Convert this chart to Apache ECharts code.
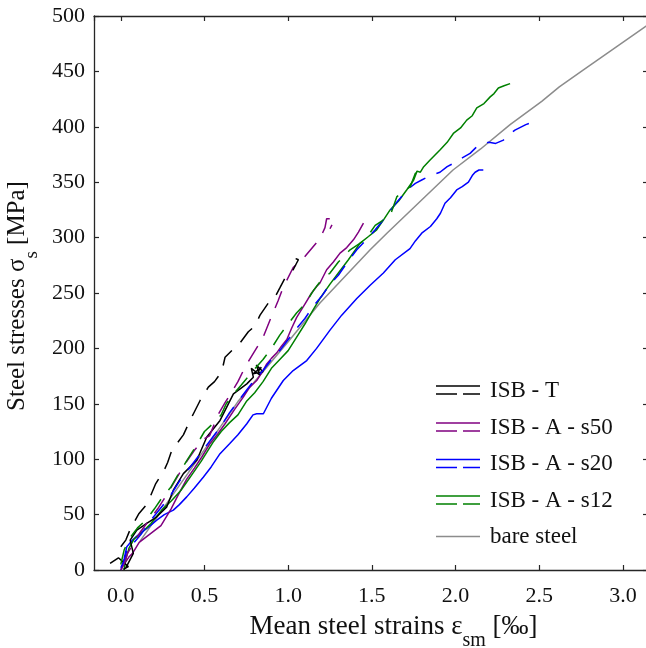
<!DOCTYPE html>
<html><head><meta charset="utf-8">
<script src="https://cdn.jsdelivr.net/npm/echarts@6/dist/echarts.min.js"></script>
<style>html,body{margin:0;padding:0;background:#fff}#c{width:646px;height:648px}</style>
</head><body><div id="c"></div>
<script>
// ---------- data (strain [‰], stress [MPa]) ----------
const isbT_solid = [[-0.064,6],[-0.014,11],[0.045,3],[0.016,0.6],[0.03,2],[0.075,15],[0.056,27],[0.096,36],[0.155,42],[0.215,48],[0.275,57],[0.314,72],[0.374,87],[0.454,99],[0.514,120],[0.593,135],[0.673,159],[0.753,168],[0.792,174],[0.78,182],[0.83,176],[0.81,185],[0.85,179],[0.79,177],[0.84,183],[0.82,179]];
const isbT_dashed = [[0.0,21],[0.03,27],[0.06,38],[0.109,51],[0.159,60],[0.209,78],[0.259,90],[0.28,97],[0.305,108],[0.374,122],[0.414,135],[0.474,153],[0.523,165],[0.56,170],[0.603,179],[0.623,192],[0.67,199],[0.713,205],[0.762,215],[0.8,220],[0.832,230],[0.882,241],[0.92,246],[0.952,255],[0.99,266],[1.03,271],[1.061,280],[1.045,281],[1.065,280],[1.05,275]];
const s50_solid = [[0.0,0],[0.02,5],[0.05,12],[0.07,15],[0.11,25],[0.17,32],[0.24,40],[0.3,55],[0.344,68],[0.394,82],[0.44,92],[0.484,102],[0.533,114],[0.58,123],[0.623,132],[0.68,145],[0.732,156],[0.77,165],[0.812,171],[0.85,180],[0.872,186],[0.9,191],[0.932,196],[0.96,202],[0.992,208],[1.02,218],[1.051,228],[1.1,240],[1.14,250],[1.171,256],[1.19,259],[1.23,271],[1.27,278],[1.31,286],[1.35,291],[1.39,298],[1.42,305],[1.45,313]];
const s50_dashed = [[0.02,5],[0.04,15],[0.08,25],[0.12,35],[0.17,45],[0.22,55],[0.254,63],[0.314,78],[0.38,95],[0.44,108],[0.494,118],[0.53,121],[0.584,141],[0.623,151],[0.66,160],[0.70,170],[0.742,183],[0.79,195],[0.85,210],[0.89,225],[0.94,243],[0.97,255],[1.03,273],[1.10,283],[1.19,299],[1.22,309],[1.23,317],[1.28,317],[1.25,308]];
const s20_solid = [[0.0,0],[0.006,2],[0.02,10],[0.036,21],[0.07,27],[0.115,33],[0.16,38],[0.215,45],[0.26,50],[0.314,54],[0.35,59],[0.394,66],[0.44,74],[0.494,84],[0.54,93],[0.593,105],[0.65,114],[0.7,122],[0.753,132],[0.79,140],[0.812,141],[0.852,141],[0.9,155],[0.94,164],[0.971,171],[1.03,180],[1.111,189],[1.17,200],[1.25,216.5],[1.32,230],[1.41,245],[1.49,257],[1.569,268],[1.64,280],[1.728,290],[1.76,297],[1.798,304],[1.85,310],[1.888,317],[1.91,322],[1.937,331],[1.97,336],[2.007,343],[2.04,346],[2.077,350],[2.1,356],[2.117,359],[2.14,361],[2.166,361]];
const s20_dashed = [[0.0,2],[0.02,8],[0.04,20],[0.08,25],[0.12,32],[0.18,45],[0.25,58],[0.3,68],[0.35,80],[0.4,90],[0.45,100],[0.5,110],[0.55,120],[0.6,130],[0.65,142],[0.7,152],[0.75,162],[0.8,172],[0.85,180],[0.9,190],[0.95,198],[1.0,208],[1.05,218],[1.1,227],[1.15,238],[1.2,247],[1.25,258],[1.3,266],[1.35,277],[1.41,289],[1.46,297],[1.52,307],[1.58,318],[1.649,332],[1.718,344],[1.76,349],[1.798,352],[1.85,356],[1.907,359],[1.95,364],[1.987,367],[2.04,372],[2.087,376],[2.12,381],[2.157,385],[2.2,386],[2.24,385],[2.286,388],[2.32,393],[2.355,397],[2.42,402],[2.475,405]];
const s12_solid = [[0.02,0],[0.03,10],[0.05,20],[0.08,28],[0.12,33],[0.18,42],[0.25,55],[0.3,62],[0.36,72],[0.42,85],[0.48,98],[0.55,115],[0.6,125],[0.65,133],[0.7,140],[0.75,152],[0.8,160],[0.85,170],[0.9,182],[0.95,190],[1.0,198],[1.05,210],[1.1,222],[1.15,235],[1.19,245],[1.25,258],[1.3,268],[1.36,280],[1.43,295],[1.48,301],[1.529,307],[1.57,316],[1.609,325],[1.66,333],[1.708,343],[1.75,352],[1.77,360],[1.79,359],[1.81,364],[1.848,370],[1.907,379],[1.95,386],[1.987,394],[2.03,399],[2.067,406],[2.1,410],[2.127,417],[2.17,421],[2.207,427],[2.23,430],[2.256,435],[2.29,437],[2.326,439]];
const s12_dashed = [[0.0,5],[0.02,18],[0.05,28],[0.1,38],[0.15,45],[0.2,55],[0.25,66],[0.3,75],[0.35,88],[0.4,100],[0.45,112],[0.5,125],[0.55,132],[0.6,140],[0.63,150],[0.68,160],[0.72,167],[0.78,178],[0.85,190],[0.9,200],[0.95,212],[1.0,222],[1.05,232],[1.1,240],[1.15,252],[1.2,262],[1.25,268],[1.3,278],[1.37,289],[1.46,298],[1.52,311],[1.61,320],[1.65,337],[1.73,346],[1.76,358],[1.8,359],[1.78,362]];
const bareSteel = [[0.115,26],[0.4,87],[0.7,152],[1.0,206],[1.19,241],[1.49,289],[1.59,304],[1.985,361],[2.15,380],[2.326,402],[2.515,423],[2.62,436],[2.76,451],[3.13,490],[3.2,497]];

const legendNames = ['ISB - T','ISB - A - s50','ISB - A - s20','ISB - A - s12','bare steel'];
const yTickValues = [0,50,100,150,200,250,300,350,400,450,500];
const xTickValues = [0.0,0.5,1.0,1.5,2.0,2.5,3.0];

// ---------- styles ----------
const FONT = '"Liberation Serif","Times New Roman",serif';
const C = {black:'#000000', purple:'#800080', blue:'#0000ff', green:'#008000', gray:'#8c8c8c'};
const DASH = [18, 12];
const LW = 1.5;

function ser(name, data, color, dashed){
  return {name, type:'line', data, showSymbol:false, symbol:'none', silent:true, animation:false,
    lineStyle:{color, width:LW, type: dashed ? DASH : 'solid'}, z: dashed?3:2};
}

const chart = echarts.init(document.getElementById('c'), null, {renderer:'canvas'});
const axisColor = '#262626';
const option = {
  animation:false,
  backgroundColor:'#fff',
  grid:{left:94, top:16, width:554, height:554, containLabel:false, outerBoundsMode:'none'},
  xAxis:[{
    type:'value', min:-0.16, max:3.15, position:'bottom',
    axisLine:{show:true, onZero:false, lineStyle:{color:axisColor, width:1.3}},
    axisTick:{show:true, inside:true, length:5, lineStyle:{color:axisColor, width:1.2}},
    splitLine:{show:false},
    axisLabel:{show:true, margin:15, fontFamily:FONT, fontSize:22, color:'#111', showMinLabel:false, showMaxLabel:false,
      formatter:v => v.toFixed(1)},
    name:'{a|Mean steel strains ε}{b|sm}{a| [‰]}', nameLocation:'middle', nameGap:43,
    nameTextStyle:{padding:[0,0,0,45], rich:{
      a:{fontFamily:FONT, fontSize:27, color:'#111', lineHeight:30, verticalAlign:'top'},
      b:{fontFamily:FONT, fontSize:20, color:'#111', lineHeight:20, padding:[18,0,0,0], verticalAlign:'top'}}}
  },{
    type:'value', min:-0.16, max:3.15, position:'top',
    axisLine:{show:true, onZero:false, lineStyle:{color:axisColor, width:1.3}},
    axisTick:{show:true, inside:true, length:5, lineStyle:{color:axisColor, width:1.2}},
    splitLine:{show:false}, axisLabel:{show:false}
  }],
  yAxis:[{
    type:'value', min:0, max:500, interval:50, position:'left',
    axisLine:{show:true, onZero:false, lineStyle:{color:axisColor, width:1.3}},
    axisTick:{show:true, inside:true, length:5, lineStyle:{color:axisColor, width:1.2}},
    splitLine:{show:false},
    axisLabel:{show:true, margin:9, fontFamily:FONT, fontSize:22, color:'#111'},
    name:'{a|Steel stresses σ}{b|s}{a| [MPa]}', nameLocation:'middle', nameGap:48,
    nameTextStyle:{padding:[0,6,0,0], rich:{
      a:{fontFamily:FONT, fontSize:25, color:'#111', lineHeight:30, verticalAlign:'top'},
      b:{fontFamily:FONT, fontSize:19, color:'#111', lineHeight:19, padding:[17,0,0,0], verticalAlign:'top'}}}
  },{
    type:'value', min:0, max:500, interval:50, position:'right',
    axisLine:{show:true, onZero:false, lineStyle:{color:axisColor, width:1.3}},
    axisTick:{show:true, inside:true, length:5, lineStyle:{color:axisColor, width:1.2}},
    splitLine:{show:false}, axisLabel:{show:false}
  }],
  series:[
    ser('bare steel', bareSteel, C.gray, false),
    ser('ISB - A - s20', s20_solid, C.blue, false),
    ser('ISB - A - s20 ', s20_dashed, C.blue, true),
    ser('ISB - A - s50', s50_solid, C.purple, false),
    ser('ISB - A - s50 ', s50_dashed, C.purple, true),
    ser('ISB - A - s12', s12_solid, C.green, false),
    ser('ISB - A - s12 ', s12_dashed, C.green, true),
    ser('ISB - T', isbT_solid, C.black, false),
    ser('ISB - T ', isbT_dashed, C.black, true)
  ],
  graphic: buildLegend()
};

function buildLegend(){
  const cols = [C.black, C.purple, C.blue, C.green, C.gray];
  const yc = [390.5, 427.5, 464, 500.5, 536.5];
  const els = [];
  legendNames.forEach((n,i)=>{
    if (i < 4) {
      els.push({type:'line', silent:true, shape:{x1:436,y1:yc[i]-4.5,x2:480,y2:yc[i]-4.5}, style:{stroke:cols[i], lineWidth:LW}});
      els.push({type:'line', silent:true, shape:{x1:436,y1:yc[i]+3.5,x2:480,y2:yc[i]+3.5}, style:{stroke:cols[i], lineWidth:LW, lineDash:[21,6]}});
    } else {
      els.push({type:'line', silent:true, shape:{x1:436,y1:yc[i],x2:480,y2:yc[i]}, style:{stroke:cols[i], lineWidth:LW}});
    }
    els.push({type:'text', silent:true, x:490, y:yc[i], style:{text:n, font:'23px '+FONT, fill:'#111', textVerticalAlign:'middle', verticalAlign:'middle'}});
  });
  return els;
}
chart.setOption(option);
</script></body></html>
